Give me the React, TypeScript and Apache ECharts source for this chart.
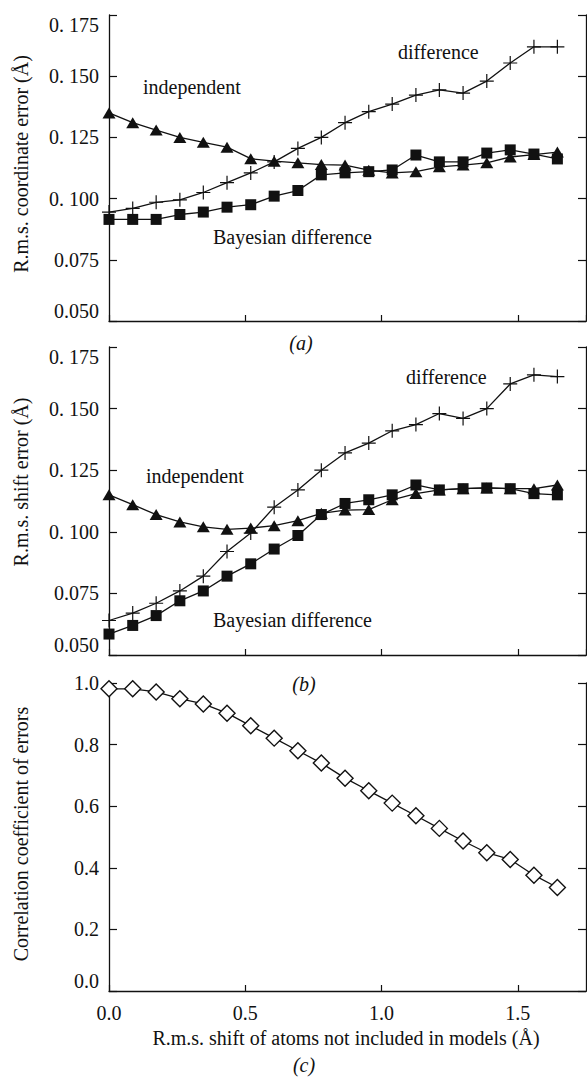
import React, { useEffect, useRef } from "react";
import * as echarts from "echarts";

// ---- data ----
const xShift = [0, 0.087, 0.173, 0.26, 0.346, 0.433, 0.52, 0.606, 0.693, 0.779, 0.866, 0.953, 1.039, 1.126, 1.212, 1.299, 1.386, 1.472, 1.559, 1.645];

// (a) r.m.s. coordinate error
const independentA = [0.135, 0.131, 0.128, 0.125, 0.123, 0.121, 0.1163, 0.1153, 0.1146, 0.1139, 0.1137, 0.1116, 0.1105, 0.111, 0.113, 0.1137, 0.1146, 0.117, 0.118, 0.119];
const bayesianA = [0.0915, 0.0915, 0.0915, 0.0935, 0.0945, 0.0965, 0.0975, 0.101, 0.1033, 0.1097, 0.1105, 0.111, 0.1117, 0.1178, 0.115, 0.115, 0.1186, 0.1199, 0.1182, 0.1162];
const differenceA = [0.0945, 0.096, 0.0985, 0.0995, 0.1025, 0.1065, 0.1105, 0.115, 0.1205, 0.125, 0.131, 0.1355, 0.1386, 0.1423, 0.1444, 0.1431, 0.148, 0.1554, 0.162, 0.162];

// (b) r.m.s. shift error
const independentB = [0.115, 0.111, 0.107, 0.104, 0.102, 0.101, 0.1015, 0.1025, 0.1045, 0.1075, 0.1088, 0.109, 0.113, 0.1155, 0.117, 0.1175, 0.1178, 0.1175, 0.1175, 0.119];
const bayesianB = [0.0585, 0.062, 0.066, 0.072, 0.076, 0.082, 0.087, 0.093, 0.0985, 0.107, 0.1115, 0.113, 0.115, 0.119, 0.117, 0.1175, 0.1178, 0.1175, 0.1155, 0.115];
const differenceB = [0.064, 0.067, 0.071, 0.076, 0.082, 0.092, 0.0995, 0.11, 0.117, 0.125, 0.132, 0.136, 0.141, 0.1435, 0.148, 0.146, 0.15, 0.16, 0.1637, 0.163];

// (c) correlation coefficient
const correlationC = [0.981, 0.981, 0.971, 0.949, 0.932, 0.902, 0.861, 0.821, 0.78, 0.74, 0.691, 0.65, 0.61, 0.569, 0.528, 0.487, 0.449, 0.427, 0.376, 0.336];

// tick labels
const errTickLabels = ["0.050", "0.075", "0. 100", "0. 125", "0. 150", "0. 175"];
const corrTickLabels = ["0.0", "0.2", "0.4", "0.6", "0.8", "1.0"];
const xTickLabels = ["0.0", "0.5", "1.0", "1.5"];

const yNameA = "R.m.s. coordinate error (Å)";
const yNameB = "R.m.s. shift error (Å)";
const yNameC = "Correlation coefficient of errors";
const xName = "R.m.s. shift of atoms not included in models (Å)";

const SERIF = "Liberation Serif";
const INK = "#111";

const pairs = (ys: number[]) => ys.map((y, i) => [xShift[i], y]);

export default function App() {
  const ref = useRef<HTMLDivElement>(null);
  useEffect(() => {
    if (!ref.current) return;
    const chart = echarts.init(ref.current, undefined, { renderer: "svg" });

    const axisLine = { show: true, onZero: false, lineStyle: { color: INK, width: 1.3 } };
    const grids = [
      { left: 109, top: 15, width: 477, height: 306 },
      { left: 109, top: 347, width: 477, height: 308 },
      { left: 109, top: 683, width: 477, height: 308 },
    ];

    const xAxes = [0, 1, 2].map((g) => ({
      type: "value",
      gridIndex: g,
      min: 0,
      max: 1.75,
      interval: 0.5,
      axisLine,
      axisTick: { show: true, inside: true, length: 6, lineStyle: { color: INK, width: 1.2 } },
      splitLine: { show: false },
      axisLabel: {
        show: g === 2,
        showMaxLabel: false,
        margin: 12,
        color: INK,
        fontFamily: SERIF,
        fontSize: 20,
        formatter: (v: number) => {
          const k = Math.round(v / 0.5);
          return Math.abs(k * 0.5 - v) < 1e-6 && k < xTickLabels.length ? xTickLabels[k] : "";
        },
      },
    }));

    const errFmt = (v: number) => errTickLabels[Math.round((v - 0.05) / 0.025)] ?? "";
    const corrFmt = (v: number) => corrTickLabels[Math.round(v / 0.2)] ?? "";

    const yAxes: any[] = [];
    [0, 1, 2].forEach((g) => {
      const isC = g === 2;
      const base = {
        type: "value",
        gridIndex: g,
        min: isC ? 0 : 0.05,
        max: isC ? 1.0 : 0.175,
        interval: isC ? 0.2 : 0.025,
        axisLine,
        axisTick: { show: true, inside: true, length: 8, lineStyle: { color: INK, width: 1.2 } },
        splitLine: { show: false },
      };
      yAxes.push({
        ...base,
        position: "left",
        axisLabel: {
          show: true,
          margin: 10,
          color: INK,
          fontFamily: SERIF,
          fontSize: 20,
          verticalAlignMinLabel: "bottom",
          verticalAlignMaxLabel: isC ? "middle" : "top",
          formatter: isC ? corrFmt : errFmt,
        },
      });
      yAxes.push({ ...base, position: "right", axisLabel: { show: false } });
    });

    const lineStyle = { color: INK, width: 1.3 };
    const crossSymbol = "path://M0,7L14,7M7,0L7,14";
    const mk = (name: string, data: number[], g: number, symbol: string, size: any, itemStyle: any) => ({
      name,
      type: "line",
      xAxisIndex: g,
      yAxisIndex: g * 2,
      data: pairs(data),
      symbol,
      symbolSize: size,
      showSymbol: true,
      clip: false,
      lineStyle,
      itemStyle,
      z: 3,
    });
    const solid = { color: INK, borderColor: INK, borderWidth: 0 };
    const crossStyle = { color: INK, borderColor: INK, borderWidth: 1.2 };
    const openStyle = { color: "#fff", borderColor: INK, borderWidth: 1.4 };

    const series = [
      mk("independent (a)", independentA, 0, "triangle", [13, 11], solid),
      mk("Bayesian difference (a)", bayesianA, 0, "rect", 11, solid),
      mk("difference (a)", differenceA, 0, crossSymbol, 14, crossStyle),
      mk("independent (b)", independentB, 1, "triangle", [13, 11], solid),
      mk("Bayesian difference (b)", bayesianB, 1, "rect", 11, solid),
      mk("difference (b)", differenceB, 1, crossSymbol, 14, crossStyle),
      mk("correlation (c)", correlationC, 2, "diamond", 16, openStyle),
    ];

    const txt = (text: string, x: number, y: number, opts: any = {}) => ({
      type: "text",
      x,
      y,
      rotation: opts.rotation ?? 0,
      style: {
        text,
        fill: INK,
        fontFamily: SERIF,
        fontSize: 20,
        fontStyle: opts.italic ? "italic" : "normal",
        align: opts.align ?? "left",
        verticalAlign: "middle",
      },
      z: 10,
    });

    const graphic = [
      txt("difference", 398, 52),
      txt("independent", 143, 87),
      txt("Bayesian difference", 213, 237),
      txt("difference", 406, 377),
      txt("independent", 146, 476),
      txt("Bayesian difference", 213, 620),
      txt("(a)", 301, 343, { italic: true, align: "center" }),
      txt("(b)", 304, 684, { italic: true, align: "center" }),
      txt("(c)", 304, 1065, { italic: true, align: "center" }),
      txt(xName, 346, 1038, { align: "center" }),
      txt(yNameA, 21, 164, { align: "center", rotation: Math.PI / 2 }),
      txt(yNameB, 21, 482, { align: "center", rotation: Math.PI / 2 }),
      txt(yNameC, 21, 834, { align: "center", rotation: Math.PI / 2 }),
    ];

    chart.setOption({
      animation: false,
      backgroundColor: "#fff",
      grid: grids,
      xAxis: xAxes,
      yAxis: yAxes,
      series,
      graphic,
    });
    return () => chart.dispose();
  }, []);

  return (
    <div
      ref={ref}
      style={{ position: "absolute", left: 0, top: 0, width: 587, height: 1077, background: "#fff" }}
    />
  );
}
